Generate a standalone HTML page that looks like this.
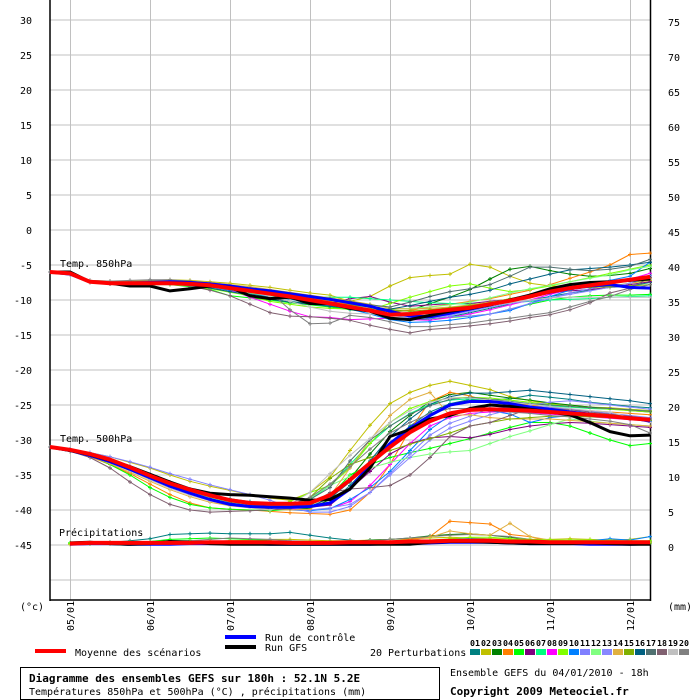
<!DOCTYPE html>
<html><head><meta charset="utf-8"><style>
body{margin:0;background:#fff;}
#wrap{position:relative;width:700px;height:700px;overflow:hidden;font-family:"DejaVu Sans Mono","Liberation Mono",monospace;}
svg{position:absolute;left:0;top:0;}
</style></head><body>
<div id="wrap">
<svg id="chart" width="700" height="700"></svg>
</div>
<script>
const dateLabels=["05/01","06/01","07/01","08/01","09/01","10/01","11/01","12/01"];
const leftTicks=[30,25,20,15,10,5,0,-5,-10,-15,-20,-25,-30,-35,-40,-45];
const rightTicks=[75,70,65,60,55,50,45,40,35,30,25,20,15,10,5,0];
const pertColors=["#008080","#c0c000","#008000","#ff8000","#00ff00","#800080","#00ff80","#ff00ff","#80ff00","#0080ff","#8080ff","#80ff80","#8888ff","#e0b040","#80b000","#006080","#507070","#806070","#c0c0c0","#808080"];
const mean850=[-6,-6.2,-7.4,-7.6,-7.6,-7.6,-7.6,-7.7,-7.9,-8.3,-8.7,-9.1,-9.5,-10,-10.5,-11,-11.5,-12.1,-12,-11.7,-11.4,-11.1,-10.6,-10.1,-9.5,-8.8,-8.3,-7.9,-7.5,-7.1,-6.7];
const gfs850=[-6,-6,-7.4,-7.6,-8,-8,-8.7,-8.4,-8,-8.2,-9.4,-9.8,-9.6,-10.5,-10.5,-11.2,-11.6,-12.6,-12.8,-12.2,-11.6,-11.2,-10.7,-10,-9.3,-8.4,-7.8,-7.5,-7.4,-7.2,-7];
const ctrl850=[-6,-6.3,-7.4,-7.6,-7.6,-7.5,-7.4,-7.5,-7.7,-8,-8.4,-8.7,-9.1,-9.5,-9.9,-10.4,-10.9,-11.6,-12.3,-12.4,-11.9,-11.3,-10.7,-10.1,-9.5,-8.9,-8.4,-8,-7.8,-8.2,-8.3];
const pert850=[
[-6,-6.3,-7.4,-7.5,-7.6,-7.5,-7.5,-7.8,-8.1,-8.5,-9.1,-9.6,-10.2,-10.5,-10.9,-11.2,-11.6,-12.5,-12.8,-12.7,-12.4,-11.8,-11.2,-10.6,-10,-9.5,-9,-8.6,-8.2,-8,-7.5],
[-6,-6.2,-7.3,-7.4,-7.3,-7.2,-7.1,-7.2,-7.4,-7.6,-7.9,-8.2,-8.6,-9,-9.3,-10.2,-9.5,-8,-6.8,-6.5,-6.3,-4.9,-5.3,-6.6,-7.6,-8,-8.1,-8.2,-8,-7.6,-7.2],
[-6,-6.3,-7.4,-7.6,-7.7,-7.6,-7.6,-7.8,-8.2,-8.6,-9,-9.4,-9.8,-10.1,-10.4,-10.8,-11.3,-11.7,-11.5,-10.5,-9.6,-8.5,-7,-5.6,-5.2,-5.8,-6.3,-6.6,-6.5,-6.2,-5.5],
[-6,-6.3,-7.4,-7.5,-7.6,-7.6,-7.5,-7.7,-7.9,-8.2,-8.5,-8.9,-9.3,-9.7,-10.2,-10.6,-11.1,-11.6,-11.5,-11,-10.6,-10.2,-9.8,-9.2,-8.6,-7.8,-6.9,-6,-5,-3.5,-3.3],
[-6,-6.3,-7.5,-7.7,-7.8,-7.8,-7.8,-8.1,-8.5,-9.4,-9.7,-10,-10.4,-10.7,-11,-11.4,-11.7,-12,-12.4,-12.6,-12.5,-12.3,-12,-11.3,-10.6,-10,-9.6,-9.4,-9.3,-9.3,-9.2],
[-6,-6.3,-7.3,-7.5,-7.5,-7.5,-7.5,-7.7,-8,-8.4,-8.8,-9.2,-9.6,-10.1,-10.5,-9.8,-9.5,-10.3,-10.9,-10.7,-10.5,-10.5,-10.2,-9.9,-9.5,-9,-8.7,-8.5,-8.2,-7.8,-7.4],
[-6,-6.3,-7.3,-7.4,-7.3,-7.3,-7.3,-7.5,-7.8,-8.2,-8.6,-9.1,-9.4,-9.5,-9.6,-9.6,-9.8,-10,-10.2,-10.4,-10.5,-10.6,-10.5,-10.4,-10.2,-10,-9.9,-9.8,-9.6,-9.5,-9.4],
[-6,-6.3,-7.4,-7.6,-7.6,-7.6,-7.5,-7.7,-8.1,-8.6,-9.6,-10.6,-11.6,-12.4,-12.5,-12.8,-12.7,-12.6,-12.8,-12.9,-12.5,-12,-11.4,-10.7,-10,-9.2,-8.5,-7.9,-7.4,-7,-6.2],
[-6,-6.2,-7.3,-7.5,-7.6,-7.7,-7.8,-8,-8.4,-8.9,-9.4,-10.2,-10.6,-11,-11.2,-11.3,-11.4,-10.5,-9.6,-8.8,-8,-7.7,-8.3,-8.8,-8.5,-8,-7.4,-6.8,-6.2,-5.6,-5],
[-6,-6.3,-7.4,-7.6,-7.7,-7.7,-7.7,-7.9,-8.2,-8.6,-9,-9.5,-9.9,-10.3,-10.8,-11.3,-12,-12.8,-13.2,-13.1,-12.9,-12.5,-12,-11.5,-10.5,-9.5,-8.6,-7.8,-7.2,-6.6,-4.6],
[-6,-6.3,-7.3,-7.5,-7.5,-7.5,-7.5,-7.7,-8,-8.4,-8.8,-9.2,-9.6,-10,-10.4,-10.8,-11.4,-12.2,-12.5,-12.6,-12.4,-12.3,-12,-11.3,-10.5,-9.8,-9,-8.4,-7.8,-7,-6.5],
[-6,-6.3,-7.4,-7.6,-7.6,-7.6,-7.6,-7.8,-8.1,-8.5,-9,-9.4,-9.8,-10.2,-10.5,-10.8,-11,-11.3,-11.2,-11,-10.7,-10.3,-9.7,-9,-8.4,-7.9,-7.4,-6.9,-6.4,-5.7,-5.2],
[-6,-6.3,-7.4,-7.6,-7.7,-7.7,-7.7,-7.9,-8.2,-8.5,-8.9,-9.3,-9.7,-10.2,-10.6,-11,-11.5,-12,-12.4,-12.5,-12.2,-11.6,-11,-10.5,-10.1,-9.7,-9.2,-8.7,-8.2,-7.6,-6.8],
[-6,-6.2,-7.2,-7.3,-7.3,-7.2,-7.2,-7.3,-7.5,-7.8,-8.1,-8.5,-8.9,-9.3,-9.7,-10.1,-10.6,-11.2,-11.3,-11.2,-11,-10.7,-10.3,-9.9,-9.3,-8.8,-8.4,-8,-7.6,-7.2,-6.9],
[-6,-6.3,-7.4,-7.5,-7.6,-7.6,-7.6,-7.8,-8.1,-8.5,-8.9,-9.3,-9.7,-10.1,-10.4,-10.7,-11,-11.4,-11.6,-11.4,-11.1,-10.8,-10.4,-9.8,-9.3,-8.8,-8.4,-8.2,-8.1,-8,-7.8],
[-6,-6.3,-7.5,-7.7,-7.7,-7.7,-7.7,-7.9,-8.3,-8.8,-9.3,-9.9,-10.3,-10.6,-10.9,-11.2,-11.5,-11.3,-10.8,-10.2,-9.6,-9.2,-8.6,-7.7,-7,-6.3,-5.7,-5.5,-5.3,-5,-4.6],
[-6,-6.2,-7.3,-7.4,-7.4,-7.3,-7.3,-7.4,-7.7,-8,-8.4,-8.8,-9.2,-9.5,-9.8,-10.2,-10.7,-11,-10.3,-9.5,-8.8,-8.4,-7.8,-6.6,-5.3,-5.3,-5.6,-5.8,-5.6,-5.2,-4.2],
[-6,-6.3,-7.5,-7.7,-7.7,-7.7,-7.7,-8,-8.6,-9.4,-10.6,-11.8,-12.3,-12.4,-12.6,-12.9,-13.6,-14.2,-14.7,-14.2,-14,-13.7,-13.4,-13,-12.5,-12.1,-11.4,-10.4,-9,-8.3,-6.8],
[-6,-6.3,-7.4,-7.5,-7.5,-7.4,-7.4,-7.6,-7.9,-8.3,-8.8,-9.5,-10.2,-11,-11.6,-11.9,-12,-12.2,-12.3,-12,-11.6,-11.2,-10.8,-10.4,-10,-9.7,-9.6,-9.6,-9.6,-9.6,-9.6],
[-6,-6.2,-7.2,-7.3,-7.2,-7.1,-7.1,-7.3,-7.6,-8,-8.4,-8.9,-11.4,-13.4,-13.3,-12.2,-12.5,-13.1,-13.8,-13.8,-13.5,-13.3,-12.9,-12.6,-12.2,-11.8,-11,-10.2,-9.5,-8.5,-7.8]];
const mean500=[-31,-31.4,-32,-32.8,-33.9,-35.1,-36.2,-37.1,-37.9,-38.6,-39,-39.1,-39.1,-39,-37.9,-35.7,-33.3,-31,-28.9,-27.3,-26.2,-25.7,-25.6,-25.7,-25.8,-26,-26.2,-26.4,-26.6,-26.9,-27.1];
const gfs500=[-31,-31.5,-32.1,-32.9,-33.8,-34.9,-36,-37,-37.6,-37.8,-37.9,-38.1,-38.3,-38.6,-38.5,-37,-34,-29.5,-28.5,-27,-26.5,-25.5,-25,-25.2,-25.6,-26,-26.4,-27.5,-28.8,-29.4,-29.3];
const ctrl500=[-31,-31.5,-32.2,-33.1,-34.2,-35.4,-36.6,-37.6,-38.5,-39.2,-39.5,-39.6,-39.6,-39.5,-39,-37,-33.5,-30.5,-28.3,-26.5,-25,-24.5,-24.5,-24.8,-25.3,-25.6,-26,-26.3,-26.6,-26.8,-27.3];
const pert500=[
[-31,-31.4,-32.1,-32.9,-33.9,-35,-36,-37,-37.8,-38.4,-38.8,-39.1,-39.3,-39.4,-39,-36.5,-33.5,-30.5,-28,-26,-24.8,-24.2,-24.3,-24.1,-23.6,-23.9,-24.2,-24.6,-24.9,-25.2,-25.4],
[-31,-31.3,-31.8,-32.4,-33.2,-34,-35,-35.9,-36.6,-37.2,-37.8,-38.3,-38.6,-37.5,-35.3,-31.5,-27.9,-24.8,-23.2,-22.2,-21.6,-22.2,-22.8,-23.8,-24.4,-24.8,-25,-25.3,-25.4,-25.6,-25.8],
[-31,-31.5,-32.2,-33,-34,-35,-36,-37,-37.8,-38.5,-39,-39.4,-39.7,-39.8,-38.5,-35.5,-32,-28.8,-26.5,-24.5,-23.5,-23.2,-23.6,-24,-24.3,-24.7,-25,-25.3,-25.5,-25.8,-26],
[-31,-31.6,-32.4,-33.5,-34.8,-36.3,-37.8,-39,-39.7,-39.9,-40,-40.2,-40.4,-40.5,-40.6,-40,-37.5,-33.5,-28.5,-24.5,-23.2,-23.7,-24.6,-24.7,-25,-25.4,-25.6,-25.8,-26,-26.2,-26.4],
[-31,-31.6,-32.3,-33.5,-35,-36.8,-38.2,-39.2,-39.7,-39.9,-40,-40.1,-39.9,-39.3,-38,-35,-33.5,-32.5,-31.8,-31.2,-30.5,-29.8,-29,-28.2,-27.5,-27.5,-28,-29,-30,-30.8,-30.5],
[-31,-31.5,-32.2,-33,-34,-35.2,-36.3,-37.2,-38,-38.6,-39,-39.3,-39.5,-39.6,-39.3,-37,-34.5,-32,-30.5,-29.7,-29.5,-29.7,-29.2,-28.5,-28,-27.7,-27.5,-27.6,-27.8,-28,-28.2],
[-31,-31.5,-32.1,-33,-34.1,-35.3,-36.5,-37.5,-38.2,-38.8,-39.2,-39.5,-39.3,-38.5,-36.5,-33.5,-30.5,-28,-26.2,-24.9,-24.3,-24.1,-24.3,-24.5,-24.8,-25.1,-25.3,-25.5,-25.6,-25.7,-25.9],
[-31,-31.5,-32.3,-33.2,-34.3,-35.5,-36.6,-37.5,-38.3,-38.9,-39.3,-39.6,-39.8,-40,-39.8,-38.8,-36.5,-33.5,-30.5,-28,-26.8,-26.2,-26,-26,-26.1,-26.3,-26.5,-26.7,-26.9,-27.1,-27.3],
[-31,-31.4,-32,-32.9,-34,-35.2,-36.4,-37.5,-38.3,-38.9,-39.3,-39.6,-38.8,-37.5,-36.5,-34,-30.5,-27.5,-25.5,-24.5,-24,-23.9,-24,-24.3,-24.6,-24.9,-25.2,-25.4,-25.6,-25.8,-26],
[-31,-31.5,-32.2,-33.1,-34.2,-35.4,-36.6,-37.6,-38.4,-39,-39.5,-39.8,-40,-40.1,-39.8,-38.5,-36.8,-34.5,-31.5,-28.5,-26.5,-25.5,-25.8,-26.3,-27.5,-26.8,-26.5,-26.6,-26.8,-27,-27.3],
[-31,-31.3,-31.8,-32.4,-33.1,-33.9,-34.8,-35.6,-36.4,-37.1,-37.8,-38.6,-39.6,-40.3,-40.3,-39.5,-37.5,-34.8,-32,-29.3,-27.6,-26.6,-25.5,-25.3,-25.2,-25.3,-25.6,-25.9,-26.2,-26.5,-26.8],
[-31,-31.5,-32.2,-33.1,-34.1,-35.3,-36.5,-37.5,-38.3,-38.9,-39.3,-39.6,-39.5,-38.3,-36.5,-35.2,-34,-33.2,-32.5,-32,-31.7,-31.5,-30.5,-29.5,-28.7,-27.8,-27,-27.3,-27.6,-27.8,-28],
[-31,-31.5,-32.2,-33.1,-34.2,-35.4,-36.6,-37.6,-38.4,-39,-39.5,-39.8,-40,-40,-39.7,-39.2,-37.5,-35,-32.5,-30,-28.3,-27.3,-26.4,-25.7,-25,-24.6,-24.4,-24.7,-25,-25.3,-25.6],
[-31,-31.6,-32.4,-33.4,-34.6,-35.9,-37.1,-38.1,-38.9,-39.4,-39.7,-39.9,-40,-39.9,-38,-34,-30,-26.5,-24.2,-23.2,-26.5,-26.4,-26.8,-27,-27,-27,-27.2,-27.4,-27.6,-27.8,-28],
[-31,-31.5,-32.2,-33,-34,-35.1,-36.2,-37.2,-38,-38.7,-39.2,-39.5,-39.5,-38.2,-35.5,-33.5,-32.5,-31.5,-30.6,-29.8,-29,-28,-27.5,-27,-26.8,-26.6,-26.6,-26.7,-26.8,-27,-27.2],
[-31,-31.5,-32.2,-33.1,-34.2,-35.4,-36.6,-37.6,-38.4,-39,-39.4,-39.6,-39.7,-39.5,-38.3,-36,-33,-29.5,-27,-24.9,-23.8,-23.3,-23.3,-23.1,-22.9,-23.2,-23.5,-23.8,-24.1,-24.4,-24.8],
[-31,-31.5,-32.3,-33.2,-34.3,-35.5,-36.7,-37.7,-38.5,-39.1,-39.5,-39.8,-39.6,-38.5,-36.8,-33,-30,-28,-26.3,-25.1,-24.2,-23.9,-24.2,-24.5,-24.8,-25,-25.2,-25.4,-25.5,-25.7,-25.9],
[-31,-31.6,-32.5,-34,-36,-37.8,-39.2,-40,-40.3,-40.2,-40.1,-40,-39.8,-39.2,-37.5,-37,-36.8,-36.5,-35,-32.5,-29.5,-28,-27.5,-26.5,-25.5,-25.5,-25.7,-26,-26.3,-26.6,-27],
[-31,-31.5,-32.2,-33.2,-34.4,-35.7,-36.9,-37.9,-38.7,-39.3,-39.7,-40,-39.2,-37.5,-34.8,-32.2,-29.8,-27.5,-25.8,-24.6,-24,-24,-24.3,-24.6,-24.9,-25.2,-25.5,-25.8,-26,-26.8,-27.5],
[-31,-31.4,-32,-32.8,-33.8,-34.9,-36,-37,-37.8,-38.5,-39,-39.4,-39.3,-38.2,-36.3,-33.8,-31.3,-29,-27.5,-26.2,-25.5,-25.5,-25.8,-26,-26.2,-26.5,-26.7,-27,-27.3,-27.8,-29]];
const precipMean=[null,0.2,0.3,0.3,0.3,0.3,0.3,0.3,0.4,0.4,0.4,0.4,0.3,0.3,0.3,0.4,0.4,0.4,0.5,0.5,0.6,0.6,0.6,0.5,0.5,0.4,0.4,0.4,0.4,0.4,0.4];
const precipCtrl=[null,0.1,0.2,0.2,0.1,0.1,0.1,0.2,0.2,0.2,0.2,0.1,0.1,0.1,0.1,0.1,0.1,0.2,0.2,0.3,0.4,0.4,0.4,0.3,0.2,0.2,0.2,0.1,0.1,0.1,0.2];
const precipGfs=[null,0.3,0.4,0.2,0.1,0.2,0.5,0.4,0.2,0.1,0.1,0.1,0.1,0.1,0.1,0.1,0.1,0.1,0.1,0.4,0.5,0.5,0.4,0.3,0.2,0.2,0.2,0.3,0.2,0.1,0.1];
const precipPert=[
[null,0.2,0.3,0.4,0.6,0.9,1.5,1.6,1.7,1.6,1.6,1.6,1.8,1.4,1.0,0.7,0.5,0.4,0.4,0.5,0.6,0.7,0.6,0.5,0.4,0.4,0.4,0.4,0.4,0.4,0.4],
[null,0.2,0.3,0.3,0.3,0.3,0.4,0.4,0.5,0.6,0.7,0.8,0.8,0.7,0.6,0.6,0.7,0.8,0.9,1.0,1.1,1.0,0.9,0.9,0.8,0.8,0.9,0.8,0.7,0.8,1.2],
[null,0.2,0.2,0.3,0.4,0.5,0.6,0.6,0.5,0.5,0.4,0.4,0.3,0.3,0.4,0.5,0.7,0.8,1.0,1.3,1.5,1.6,1.4,1.1,0.8,0.6,0.5,0.5,0.4,0.4,0.5],
[null,0.1,0.2,0.2,0.2,0.2,0.3,0.4,0.5,0.6,0.5,0.4,0.3,0.3,0.3,0.3,0.4,0.5,0.8,1.2,3.4,3.2,3.0,1.5,1.2,0.5,0.4,0.3,0.3,0.3,0.3],
[null,0.3,0.3,0.3,0.4,0.5,0.8,0.9,1.0,0.9,0.8,0.6,0.5,0.4,0.4,0.3,0.3,0.3,0.3,0.4,0.5,0.6,0.6,0.4,0.3,0.3,0.3,0.3,0.3,0.3,0.3],
[null,0.2,0.2,0.2,0.3,0.3,0.3,0.3,0.3,0.3,0.3,0.3,0.2,0.2,0.2,0.2,0.2,0.3,0.3,0.5,0.8,0.9,0.8,0.6,0.5,0.5,0.5,0.6,0.9,0.7,1.2],
[null,0.2,0.2,0.3,0.3,0.4,0.5,0.6,0.8,1.0,0.9,0.8,0.6,0.5,0.5,0.5,0.6,0.8,1.0,1.2,1.4,1.5,1.4,1.2,0.8,0.6,0.5,0.5,0.5,0.5,0.5],
[null,0.1,0.2,0.2,0.3,0.3,0.3,0.3,0.4,0.4,0.3,0.3,0.3,0.3,0.3,0.3,0.4,0.5,0.7,1.1,2.0,1.6,1.4,3.1,1.2,0.7,0.6,0.5,0.4,0.4,0.4],
[null,0.2,0.2,0.3,0.3,0.3,0.4,0.5,0.5,0.5,0.4,0.4,0.3,0.3,0.3,0.3,0.3,0.4,0.5,0.7,0.9,1.1,1.1,0.9,0.8,0.7,0.7,0.7,0.6,0.6,0.6]];
const precipPertColors=["#008080","#c0c000","#008000","#ff8000","#00ff00","#0080ff","#808080","#e0b040","#80ff00"];

const NS="http://www.w3.org/2000/svg";
const svg=document.getElementById('chart');
const X0=50,DX=20;
function xPos(i){return X0+i*DX;}
function yTemp(v){return 20+(30-v)*7;}
function yMm(v){return 545-v*7;}
function mk(tag,attrs,parent){const e=document.createElementNS(NS,tag);for(const k in attrs)e.setAttribute(k,attrs[k]);(parent||svg).appendChild(e);return e;}
function txt(x,y,s,opt){const e=mk('text',Object.assign({x:x,y:y,'font-size':10,'font-family':'"DejaVu Sans Mono","Liberation Mono",monospace',fill:'#000'},opt||{}));e.textContent=s;return e;}

const grid=mk('g',{});


leftTicks.forEach(v=>{mk('line',{x1:50,x2:650,y1:yTemp(v),y2:yTemp(v),stroke:'#c0c0c0','stroke-width':1},grid);});
mk('line',{x1:50,x2:650,y1:yTemp(-50),y2:yTemp(-50),stroke:'#c0c0c0'},grid);
dateLabels.forEach((d,k)=>{mk('line',{x1:70+k*80+0.5,x2:70+k*80+0.5,y1:0,y2:600,stroke:'#c0c0c0'},grid);});
const ax=mk('g',{stroke:'#000','stroke-width':1.5,fill:'none'});


mk('line',{x1:50,x2:50,y1:0,y2:601},ax);
mk('line',{x1:50,x2:651,y1:600,y2:600},ax);
mk('line',{x1:650.5,x2:650.5,y1:0,y2:601},ax);
leftTicks.forEach(v=>{const t=txt(32,yTemp(v)+4,String(v),{'text-anchor':'end'});});
rightTicks.forEach((v,i)=>{const t=txt(668,yMm(v)+6,String(v));});
dateLabels.forEach((d,k)=>{const x=70+k*80+4;const t=txt(0,0,d,{transform:'translate('+x+',631) rotate(-90)'});});
let u=txt(20,610,'(°c)');
u=txt(668,610,'(mm)');

function series(vals,yf,color,w,marks,name){
  const g=mk('g',{});
  
  
  let pts=[];vals.forEach((v,i)=>{if(v!==null)pts.push(xPos(i)+','+yf(v).toFixed(1));});
  mk('polyline',{points:pts.join(' '),fill:'none',stroke:color,'stroke-width':w,'stroke-linejoin':'round'},g);
  if(marks){vals.forEach((v,i)=>{if(v===null)return;const x=xPos(i),y=yf(v);mk('path',{d:'M'+(x-2)+' '+y+'H'+(x+2)+'M'+x+' '+(y-2)+'V'+(y+2),stroke:color,'stroke-width':1},g);});}
}
pert850.forEach((s,i)=>series(s,yTemp,pertColors[i],1,true,'t850-perturbation-'+(i+1)));
pert500.forEach((s,i)=>series(s,yTemp,pertColors[i],1,true,'t500-perturbation-'+(i+1)));
precipPert.forEach((s,i)=>series(s,yMm,precipPertColors[i],1,true,'precip-perturbation-'+(i+1)));
series(ctrl850,yTemp,'#0000ff',3,false,'t850-control-run');
series(ctrl500,yTemp,'#0000ff',3,false,'t500-control-run');
series(precipCtrl,yMm,'#0000ff',3,false,'precip-control-run');
series(gfs850,yTemp,'#000',3,false,'t850-gfs-run');
series(gfs500,yTemp,'#000',3,false,'t500-gfs-run');
series(precipGfs,yMm,'#000',3,false,'precip-gfs-run');
series(mean850,yTemp,'#ff0000',4,false,'t850-mean');
series(mean500,yTemp,'#ff0000',4,false,'t500-mean');
series(precipMean,yMm,'#ff0000',4,false,'precip-mean');

let l=txt(60,267,'Temp. 850hPa');
l=txt(60,442,'Temp. 500hPa');
l=txt(59,536,'Précipitations');

const lg=mk('g',{});


mk('rect',{x:35,y:649,width:31,height:4,fill:'#ff0000'},lg);
txt(75,656,'Moyenne des scénarios');
mk('rect',{x:225,y:635,width:31,height:4,fill:'#0000ff'},lg);
txt(265,641,'Run de contrôle');
mk('rect',{x:225,y:645,width:31,height:4,fill:'#000'},lg);
txt(265,651,'Run GFS');
txt(370,656,'20 Perturbations');
pertColors.forEach((c,i)=>{
  const x=470+i*11;
  const r=mk('rect',{x:x,y:649,width:10,height:6,fill:c},lg);
  
  
  const n=txt(x,646,(i+1<10?'0':'')+(i+1),{'font-size':7.5,'font-weight':'bold','textLength':10,'lengthAdjust':'spacingAndGlyphs'});
  
  
});
const bx=mk('rect',{x:20.5,y:667.5,width:419,height:32,fill:'none',stroke:'#000','stroke-width':1});


let t=txt(29,682,'Diagramme des ensembles GEFS sur 180h : 52.1N 5.2E',{'font-weight':'bold','font-size':11});

t=txt(29,695,'Températures 850hPa et 500hPa (°C) , précipitations (mm)');

t=txt(450,676,'Ensemble GEFS du 04/01/2010 - 18h');

t=txt(450,695,'Copyright 2009 Meteociel.fr',{'font-weight':'bold','font-size':11});

</script>
</body></html>
